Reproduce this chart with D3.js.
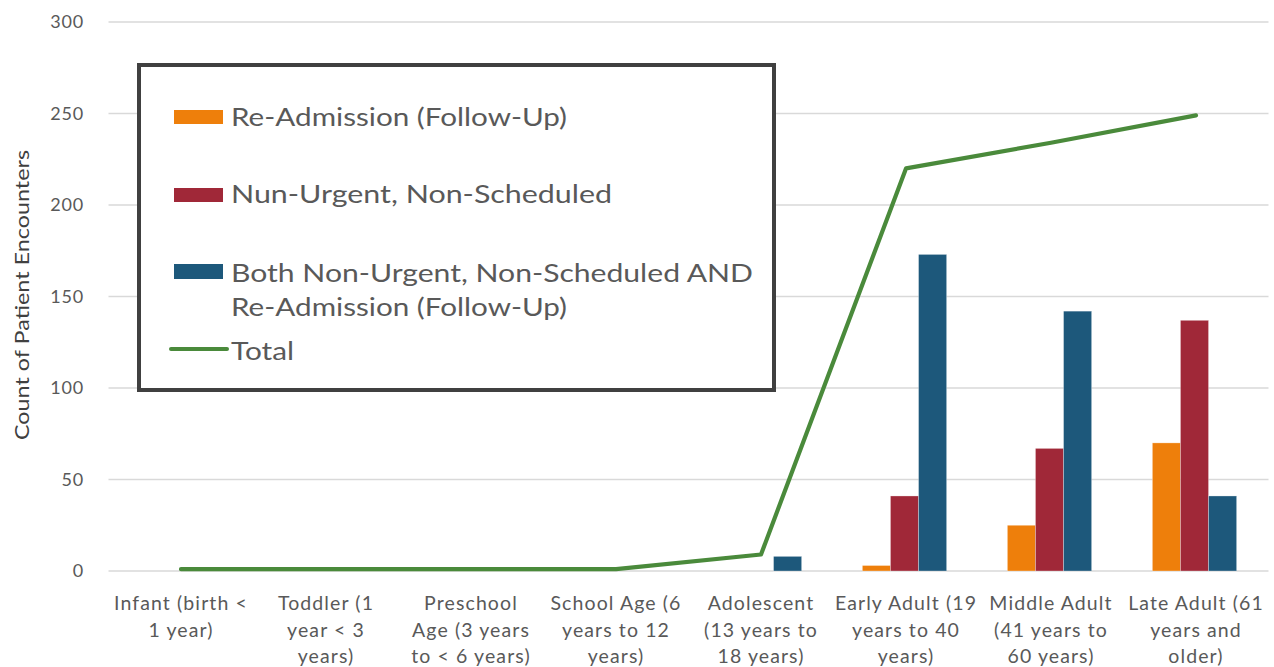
<!DOCTYPE html>
<html>
<head>
<meta charset="utf-8">
<script src="https://cdn.jsdelivr.net/npm/d3@7"></script>
<style>
  html, body { margin: 0; padding: 0; background: #fff; }
  svg { display: block; font-family: Lato, "Open Sans", sans-serif; }
</style>
</head>
<body>
<svg id="chart" width="1274" height="667"></svg>
<script>
// ---- data ----
const categories = ["Infant", "Toddler", "Preschool", "School Age", "Adolescent", "Early Adult", "Middle Adult", "Late Adult"];
const categoryLabelLines = [
  ["Infant (birth <", "1 year)"],
  ["Toddler (1", "year < 3", "years)"],
  ["Preschool", "Age (3 years", "to < 6 years)"],
  ["School Age (6", "years to 12", "years)"],
  ["Adolescent", "(13 years to", "18 years)"],
  ["Early Adult (19", "years to 40", "years)"],
  ["Middle Adult", "(41 years to", "60 years)"],
  ["Late Adult (61", "years and", "older)"]
];
const seriesNames = ["Re-Admission (Follow-Up)", "Nun-Urgent, Non-Scheduled", "Both Non-Urgent, Non-Scheduled AND Re-Admission (Follow-Up)"];
const readmission = [0, 0, 0, 0, 0, 3, 25, 70];
const nonUrgent   = [0, 0, 0, 0, 0, 41, 67, 137];
const both        = [0, 0, 0, 0, 8, 173, 142, 41];
const total       = [1, 1, 1, 1, 9, 220, 234, 249];
const lineName = "Total";
const yTicks = [0, 50, 100, 150, 200, 250, 300];
const yTitle = "Count of Patient Encounters";

// ---- layout ----
const colors = ["#ee7f0b", "#a02838", "#1d587b"];
const lineColor = "#4a8a3b";
const svg = d3.select("#chart");
const plotLeft = 108.5, plotRight = 1268.5, plotTop = 22, plotBottom = 571;

const x = d3.scaleBand().domain(categories).range([plotLeft, plotRight]).padding(0);
const y = d3.scaleLinear().domain([0, 300]).range([plotBottom, plotTop]);
const barW = 28.1;
const xs = d3.scaleBand().domain([0, 1, 2]).range([0, barW * 3]);

// gridlines
svg.append("g").selectAll("line").data(yTicks).join("line")
  .attr("x1", plotLeft).attr("x2", plotRight)
  .attr("y1", d => y(d)).attr("y2", d => y(d))
  .attr("stroke", "#d9d9d9").attr("stroke-width", 1.5);

// y axis labels
const yAxis = d3.axisLeft(y).tickValues(yTicks).tickSize(0).tickPadding(0);
const yg = svg.append("g").attr("transform", `translate(${84},0)`).call(yAxis);
yg.select(".domain").remove();
yg.selectAll("text").attr("font-size", 18).attr("fill", "#595959")
  .attr("font-family", "Lato, sans-serif").attr("letter-spacing", 0.8);

// y title
svg.append("text")
  .attr("transform", `translate(29,${295}) rotate(-90)`)
  .attr("text-anchor", "middle")
  .attr("font-size", 20).attr("fill", "#404040")
  .attr("textLength", 290).attr("lengthAdjust", "spacingAndGlyphs")
  .text(yTitle);

// bars
const seriesData = [readmission, nonUrgent, both];
const gBars = svg.append("g");
seriesData.forEach((vals, si) => {
  gBars.append("g").selectAll("rect").data(vals).join("rect")
    .attr("x", (d, i) => x(categories[i]) + x.bandwidth() / 2 - 1.5 - barW * 1.5 + xs(si))
    .attr("width", barW)
    .attr("y", d => y(d))
    .attr("height", d => plotBottom - y(d))
    .attr("fill", colors[si])
    .attr("stroke", "rgba(255,255,255,0.5)").attr("stroke-width", 0.6)
    .style("display", d => d > 0 ? null : "none");
});

// total line
const line = d3.line()
  .x((d, i) => x(categories[i]) + x.bandwidth() / 2)
  .y(d => y(d));
svg.append("path").datum(total)
  .attr("d", line)
  .attr("fill", "none").attr("stroke", lineColor).attr("stroke-width", 4.2)
  .attr("stroke-linejoin", "round").attr("stroke-linecap", "round");

// x labels
const xl = svg.append("g");
categories.forEach((c, i) => {
  const t = xl.append("text")
    .attr("text-anchor", "middle")
    .attr("font-size", 19.5).attr("fill", "#595959")
    .attr("letter-spacing", 1.1);
  categoryLabelLines[i].forEach((ln, j) => {
    t.append("tspan").attr("x", x(c) + x.bandwidth() / 2).attr("y", 610 + j * 26.5).text(ln);
  });
});

// legend
const lg = svg.append("g");
lg.append("rect").attr("x", 139).attr("y", 65).attr("width", 635).attr("height", 325)
  .attr("fill", "#fff").attr("stroke", "#404040").attr("stroke-width", 4);
const legendItems = [
  { type: "rect", color: colors[0], lines: ["Re-Admission (Follow-Up)"], sy: 110, sh: 14, ty: [126], w: [336] },
  { type: "rect", color: colors[1], lines: ["Nun-Urgent, Non-Scheduled"], sy: 188, sh: 14, ty: [203], w: [381] },
  { type: "rect", color: colors[2], lines: ["Both Non-Urgent, Non-Scheduled AND", "Re-Admission (Follow-Up)"], sy: 264, sh: 15, ty: [282, 316], w: [522, 336] },
  { type: "line", color: lineColor, lines: [lineName], sy: 349, ty: [360], w: [63] }
];
legendItems.forEach(it => {
  if (it.type === "rect") {
    lg.append("rect").attr("x", 174).attr("y", it.sy).attr("width", 49).attr("height", it.sh).attr("fill", it.color);
  } else {
    lg.append("line").attr("x1", 171).attr("x2", 227).attr("y1", it.sy).attr("y2", it.sy)
      .attr("stroke", it.color).attr("stroke-width", 4).attr("stroke-linecap", "round");
  }
  it.lines.forEach((ln, j) => {
    lg.append("text").attr("x", 231).attr("y", it.ty[j])
      .attr("font-size", 25).attr("fill", "#595959")
      .attr("textLength", it.w[j]).attr("lengthAdjust", "spacingAndGlyphs")
      .text(ln);
  });
});
</script>
</body>
</html>
